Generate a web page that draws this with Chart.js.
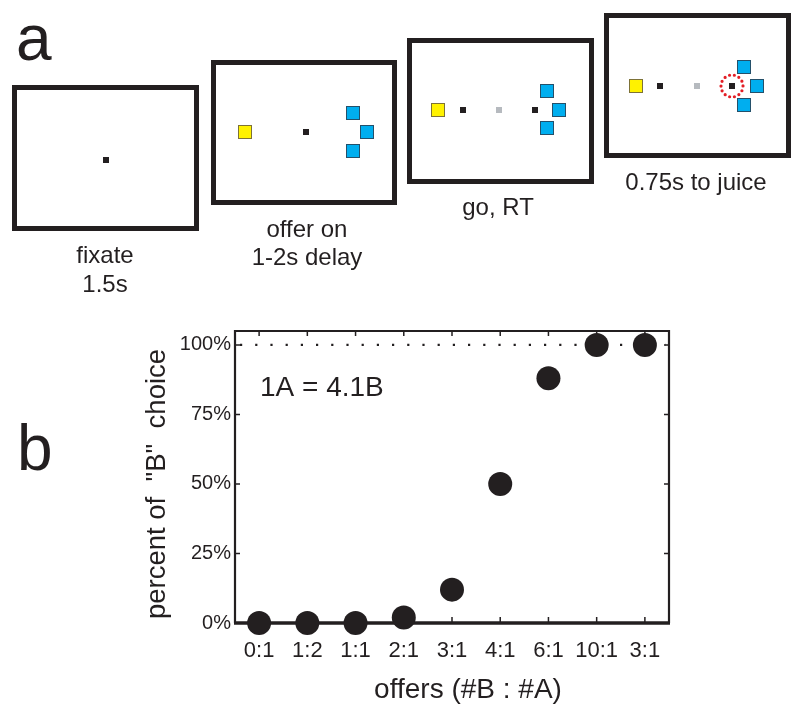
<!DOCTYPE html>
<html>
<head>
<meta charset="utf-8">
<script src="https://cdn.jsdelivr.net/npm/chart.js@4/dist/chart.umd.min.js"></script>
<style>
  html, body { margin: 0; padding: 0; background: #fff; }
  #page { position: relative; width: 800px; height: 712px; overflow: hidden; font-family: "Liberation Sans", Arial, sans-serif; color: #231f20; }
  #chartWrap { position: absolute; left: 0; top: 0; width: 800px; height: 712px; }
  #diagram { position: absolute; left: 0; top: 0; }
  .panel { position: absolute; font-size: 64px; line-height: 64px; color: #231f20; }
</style>
</head>
<body>
<div id="page">
  <div id="chartWrap"><canvas id="c"></canvas></div>
  <svg id="diagram" width="800" height="310" xmlns="http://www.w3.org/2000/svg" font-family="Liberation Sans, Arial, sans-serif" font-size="24" fill="#231f20">
    <g fill="none" stroke="#231f20" stroke-width="5">
      <rect x="14.5" y="87.5" width="182" height="141"/>
      <rect x="213.5" y="62.5" width="181" height="140"/>
      <rect x="409.5" y="40.5" width="182" height="141"/>
      <rect x="606.5" y="15.5" width="182" height="140"/>
    </g>
    <!-- fixation points -->
    <g fill="#231f20">
      <rect x="103" y="157" width="6" height="6"/>
      <rect x="303" y="129" width="6" height="6"/>
      <rect x="460" y="107" width="6" height="6"/>
      <rect x="532" y="107" width="6" height="6"/>
      <rect x="657" y="83" width="6" height="6"/>
      <rect x="729" y="83" width="6" height="6"/>
    </g>
    <g fill="#b6babf">
      <rect x="496" y="107" width="6" height="6"/>
      <rect x="694" y="83" width="6" height="6"/>
    </g>
    <!-- yellow offers -->
    <g fill="#fff200" stroke="#7d7237" stroke-width="1">
      <rect x="238.5" y="125.5" width="13" height="13"/>
      <rect x="431.5" y="103.5" width="13" height="13"/>
      <rect x="629.5" y="79.5" width="13" height="13"/>
    </g>
    <!-- blue offers -->
    <g fill="#00aeef" stroke="#24506a" stroke-width="1">
      <rect x="346.5" y="106.5" width="13" height="13"/>
      <rect x="360.5" y="125.5" width="13" height="13"/>
      <rect x="346.5" y="144.5" width="13" height="13"/>
      <rect x="540.5" y="84.5" width="13" height="13"/>
      <rect x="552.5" y="103.5" width="13" height="13"/>
      <rect x="540.5" y="121.5" width="13" height="13"/>
      <rect x="737.5" y="60.5" width="13" height="13"/>
      <rect x="750.5" y="79.5" width="13" height="13"/>
      <rect x="737.5" y="98.5" width="13" height="13"/>
    </g>
    <circle cx="732" cy="86" r="11" fill="none" stroke="#e31e25" stroke-width="3.2" stroke-linecap="round" stroke-dasharray="0 4.9"/>
    <g text-anchor="middle">
      <text x="105" y="263">fixate</text>
      <text x="105" y="292">1.5s</text>
      <text x="307" y="237">offer on</text>
      <text x="307" y="265">1-2s delay</text>
      <text x="498" y="215">go, RT</text>
      <text x="696" y="190">0.75s to juice</text>
    </g>
  </svg>
  <div class="panel" style="left:16px; top:6px;">a</div>
  <div class="panel" style="left:17px; top:416px;">b</div>
</div>
<script>
// ---- data ----
const categories = ['0:1', '1:2', '1:1', '2:1', '3:1', '4:1', '6:1', '10:1', '3:1'];
const percentB = [0, 0, 0, 2, 12, 50, 88, 100, 100];
const yTickValues = [0, 25, 50, 75, 100];
const yTickLabels = ['0%', '25%', '50%', '75%', '100%'];
const referenceLevel = 100;
const annotationText = '1A = 4.1B';
const xTitle = 'offers (#B : #A)';
const yTitle = 'percent of  "B"  choice';

const INK = '#231f20';
const FONT = '"Liberation Sans", Arial, sans-serif';

const framePlugin = {
  id: 'frame',
  beforeDatasetsDraw(chart) {
    const {ctx, chartArea: a, scales: {x, y}} = chart;
    ctx.save();
    // dotted reference line
    const yr = y.getPixelForValue(referenceLevel);
    ctx.strokeStyle = INK;
    ctx.lineWidth = 2.2;
    ctx.setLineDash([2.2, 13]);
    ctx.beginPath();
    ctx.moveTo(a.left + 5, yr);
    ctx.lineTo(a.right - 3, yr);
    ctx.stroke();
    ctx.setLineDash([]);
    // inward ticks
    ctx.lineWidth = 1.5;
    ctx.beginPath();
    x.ticks.forEach((t, i) => {
      const px = x.getPixelForTick(i);
      ctx.moveTo(px, a.top); ctx.lineTo(px, a.top + 5);
      ctx.moveTo(px, a.bottom); ctx.lineTo(px, a.bottom - 6);
    });
    yTickValues.forEach(v => {
      const py = y.getPixelForValue(v);
      ctx.moveTo(a.left, py); ctx.lineTo(a.left + 5, py);
      ctx.moveTo(a.right, py); ctx.lineTo(a.right - 5, py);
    });
    ctx.stroke();
    // frame
    ctx.lineWidth = 2.2;
    ctx.beginPath();
    ctx.moveTo(a.left, a.bottom);
    ctx.lineTo(a.left, a.top);
    ctx.lineTo(a.right, a.top);
    ctx.lineTo(a.right, a.bottom);
    ctx.stroke();
    ctx.lineWidth = 3.6;
    ctx.beginPath();
    ctx.moveTo(a.left - 1, a.bottom);
    ctx.lineTo(a.right + 1, a.bottom);
    ctx.stroke();
    // annotation
    ctx.fillStyle = INK;
    ctx.font = '28px ' + FONT;
    ctx.textAlign = 'left';
    ctx.textBaseline = 'middle';
    ctx.fillText(annotationText, a.left + 25, a.top + 57);
    // axis titles
    ctx.textAlign = 'center';
    ctx.fillText(xTitle, (a.left + a.right) / 2 + 16, a.bottom + 67);
    ctx.save();
    ctx.translate(a.left - 78, (a.top + a.bottom) / 2 + 7);
    ctx.rotate(-Math.PI / 2);
    ctx.font = '27.5px ' + FONT;
    ctx.fillText(yTitle, 0, 0);
    ctx.restore();
    ctx.restore();
  }
};

new Chart(document.getElementById('c'), {
  type: 'line',
  data: {
    labels: categories,
    datasets: [{
      data: percentB,
      showLine: false,
      pointRadius: 12,
      pointHoverRadius: 12,
      pointBackgroundColor: INK,
      pointBorderColor: INK,
      pointBorderWidth: 0,
      clip: false
    }]
  },
  options: {
    responsive: true,
    maintainAspectRatio: false,
    animation: false,
    events: [],
    layout: { padding: { left: 135, right: 131, top: 331, bottom: 2 } },
    plugins: { legend: { display: false }, tooltip: { enabled: false } },
    scales: {
      x: {
        type: 'category',
        offset: true,
        grid: { display: false },
        border: { display: false },
        ticks: { color: INK, font: { family: FONT, size: 22 }, padding: 7, maxRotation: 0, autoSkip: false },
        afterFit(scale) { scale.height = 87; }
      },
      y: {
        type: 'linear',
        min: 0,
        max: 105,
        grid: { display: false },
        border: { display: false },
        afterBuildTicks(scale) { scale.ticks = yTickValues.map(v => ({ value: v })); },
        ticks: {
          color: INK, font: { family: FONT, size: 20 }, padding: -4,
          callback: (v) => yTickLabels[yTickValues.indexOf(v)]
        },
        afterFit(scale) { scale.width = 100; }
      }
    }
  },
  plugins: [framePlugin]
});
</script>
</body>
</html>
